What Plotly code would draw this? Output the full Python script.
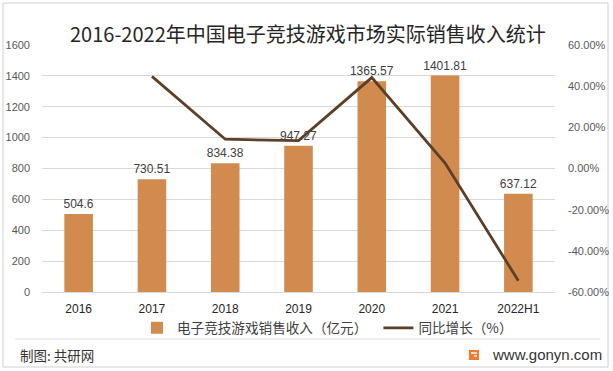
import plotly.graph_objects as go

# ---- data ----
years = ["2016", "2017", "2018", "2019", "2020", "2021", "2022H1"]
revenue = [504.6, 730.51, 834.38, 947.27, 1365.57, 1401.81, 637.12]
growth = [None, 0.4477, 0.1422, 0.1353, 0.4416, 0.0265, -0.5455]
revenue_labels = ["504.6", "730.51", "834.38", "947.27", "1365.57", "1401.81", "637.12"]
left_ticks = [0, 200, 400, 600, 800, 1000, 1200, 1400, 1600]
right_ticks = [-0.6, -0.4, -0.2, 0.0, 0.2, 0.4, 0.6]
right_tick_labels = ["-60.00%", "-40.00%", "-20.00%", "0.00%", "20.00%", "40.00%", "60.00%"]

title_text = "2016-2022年中国电子竞技游戏市场实际销售收入统计"
bar_name = "电子竞技游戏销售收入（亿元）"
line_name = "同比增长（%）"

W, H = 613, 371
L, R, T, B = 42, 555, 45, 292  # plot-area pixel bounds


def px_x(px):
    return (px - L) / (R - L)


def px_y(py):
    return (B - py) / (B - T)


CJK = "Noto Sans CJK SC"
NUM = "Liberation Sans, Noto Sans CJK SC"
NBSP = "\u00a0"

fig = go.Figure()
fig.add_trace(go.Bar(
    x=years, y=revenue, name=bar_name + NBSP * 2,
    marker=dict(color="#D28B4E", line=dict(width=0)),
    text=revenue_labels, textposition="outside", cliponaxis=False,
    constraintext="none",
    textfont=dict(family=NUM, size=12, color="#404040"),
))
fig.add_trace(go.Scatter(
    x=years, y=growth, name=line_name, yaxis="y2", mode="lines",
    line=dict(color="#5C3F27", width=2.8), connectgaps=False,
))

fig.update_layout(
    width=W, height=H,
    margin=dict(l=L, r=W - R, t=T, b=H - B, pad=0, autoexpand=False),
    paper_bgcolor="white", plot_bgcolor="white",
    bargap=0.61,
    showlegend=True,
    legend=dict(
        orientation="h", x=px_x(137), xanchor="left",
        y=px_y(328), yanchor="middle",
        font=dict(family=CJK, size=13.6, color="#404040"),
        bgcolor="rgba(0,0,0,0)", itemwidth=30,
    ),
    xaxis=dict(
        type="category", showgrid=False, showline=True, linecolor="#D9D9D9",
        linewidth=1, ticks="", tickfont=dict(family=NUM, size=12, color="#262626"),
        ticklabelstandoff=6, automargin=False,
    ),
    yaxis=dict(
        range=[0, 1600], tickvals=left_ticks, showgrid=True, gridcolor="#D9D9D9",
        gridwidth=1, zeroline=False, showline=False, ticks="",
        tickfont=dict(family=NUM, size=11, color="#595959"),
        ticklabelstandoff=11, automargin=False,
    ),
    yaxis2=dict(
        range=[-0.6, 0.6], tickvals=right_ticks, ticktext=right_tick_labels,
        overlaying="y", side="right", showgrid=False, zeroline=False,
        showline=False, ticks="",
        tickfont=dict(family=NUM, size=11, color="#595959"),
        ticklabelstandoff=12, automargin=False,
    ),
    annotations=[
        dict(text=title_text, x=px_x(308), y=px_y(33), xref="paper", yref="paper",
             xanchor="center", yanchor="middle", showarrow=False,
             font=dict(family=CJK, size=20, color="#262626")),
        dict(text="制图: 共研网", x=px_x(18), y=px_y(355), xref="paper", yref="paper",
             xanchor="left", yanchor="middle", showarrow=False,
             font=dict(family=CJK, size=13.5, color="#333333")),
        dict(text="www.gonyn.com", x=px_x(604), y=px_y(354), xref="paper", yref="paper",
             xanchor="right", yanchor="middle", showarrow=False,
             font=dict(family="Liberation Sans", size=15, color="#333333")),
    ],
    shapes=[
        dict(type="rect", xref="paper", yref="paper",
             x0=px_x(3), x1=px_x(608), y0=px_y(367), y1=px_y(3),
             line=dict(color="#D0D0D0", width=1), fillcolor="rgba(0,0,0,0)", layer="below"),
        dict(type="line", xref="paper", yref="paper",
             x0=px_x(15), x1=px_x(600), y0=px_y(339), y1=px_y(339),
             line=dict(color="#E0E0E0", width=1)),
        dict(type="rect", xref="paper", yref="paper",
             x0=px_x(469), x1=px_x(479), y0=px_y(360), y1=px_y(350),
             line=dict(width=0), fillcolor="#F27A2A"),
        dict(type="line", xref="paper", yref="paper",
             x0=px_x(471), x1=px_x(477), y0=px_y(353), y1=px_y(353),
             line=dict(color="white", width=1.5)),
        dict(type="line", xref="paper", yref="paper",
             x0=px_x(474), x1=px_x(477), y0=px_y(356), y1=px_y(356),
             line=dict(color="white", width=1.5)),
    ],
)

fig.write_html(
    "out.html",
    config={"displayModeBar": False},
    post_script="document.body.style.margin='0';document.body.style.padding='0';",
)
